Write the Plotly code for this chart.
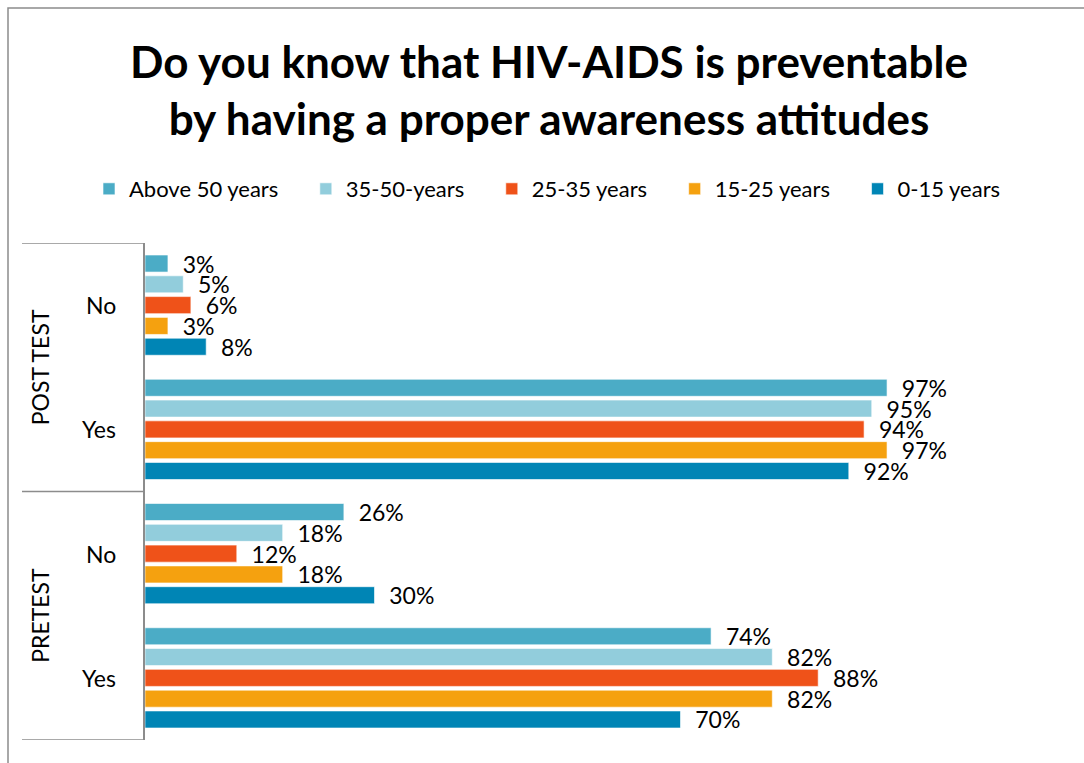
import plotly.graph_objects as go

# ---- data ----
groups = ["POST TEST", "POST TEST", "PRETEST", "PRETEST"]
answers = ["No", "Yes", "No", "Yes"]
categories = ["POST TEST|No", "POST TEST|Yes", "PRETEST|No", "PRETEST|Yes"]

series_names = ["Above 50 years", "35-50-years", "25-35 years", "15-25 years", "0-15 years"]
above_50 = [3, 97, 26, 74]
age_35_50 = [5, 95, 18, 82]
age_25_35 = [6, 94, 12, 88]
age_15_25 = [3, 97, 18, 82]
age_0_15 = [8, 92, 30, 70]
series_values = [above_50, age_35_50, age_25_35, age_15_25, age_0_15]
colors = ["#4BACC6", "#92CDDC", "#EF5219", "#F5A10F", "#0085B5"]

title_text = "Do you know that HIV-AIDS is preventable<br>by having a proper awareness attitudes"

FONT = "Lato, Carlito, Calibri, sans-serif"

W, H = 1084, 763
PL = 145            # plot area left in page px
X100 = 910          # page px of the 100% value
PR = 1074           # plot area right in page px
PT, PB = 243, 740   # plot area y in page px
XMAX = 100 * (PR - PL) / (X100 - PL)

def px_x(p):
    return (p - PL) / (PR - PL)

def px_y(p):
    return (PB - p) / (PB - PT)

fig = go.Figure()
# y axis is reversed, so the first trace sits at the top of each group
for i, (name, vals, col) in enumerate(zip(series_names, series_values, colors)):
    pad = "\u00a0" * 4 if i < len(series_names) - 1 else ""
    fig.add_trace(go.Bar(
        name=name + pad,
        y=categories,
        x=vals,
        orientation="h",
        marker=dict(color=col, line=dict(color="rgba(255,255,255,0.6)", width=1)),
        text=[f"{v}%" for v in vals],
        texttemplate="\u00a0\u00a0%{text}",
        textposition="outside",
        textfont=dict(family=FONT, size=23, color="#000000"),
        constraintext="none",
        cliponaxis=False,
    ))

annotations = []
# answer labels
for cat, ans in zip(categories, answers):
    annotations.append(dict(
        xref="paper", yref="y", x=px_x(118), y=cat, text=ans,
        xanchor="right", yanchor="middle", showarrow=False,
        font=dict(family=FONT, size=23, color="#000000"),
    ))
# group labels
seen = []
for i, g in enumerate(groups):
    if g in seen:
        continue
    seen.append(g)
    idx = [j for j, gg in enumerate(groups) if gg == g]
    center = (idx[0] + idx[-1]) / 2
    annotations.append(dict(
        xref="paper", yref="y", x=px_x(40), y=center, text=g,
        textangle=-90, xanchor="center", yanchor="middle", showarrow=False,
        font=dict(family=FONT, size=23, color="#000000"),
    ))

shapes = []
line_col = "#8C8C8C"
for yb in [-0.5, 1.5, 3.5]:
    shapes.append(dict(type="line", xref="paper", yref="y",
                       x0=px_x(22), x1=0, y0=yb, y1=yb,
                       line=dict(color=line_col, width=1.5)))
# outer chart frame
shapes.append(dict(type="rect", xref="paper", yref="paper",
                   x0=px_x(8), x1=px_x(W + 20), y0=px_y(H + 20), y1=px_y(8),
                   line=dict(color=line_col, width=1.5), fillcolor="rgba(0,0,0,0)"))

fig.update_layout(
    width=W, height=H,
    margin=dict(l=PL, r=W - PR, t=PT, b=H - PB, pad=0),
    paper_bgcolor="white", plot_bgcolor="white",
    barmode="group", bargap=0.163, bargroupgap=0.18,
    title=dict(text=title_text, x=549 / W, xref="container", xanchor="center",
               y=1 - 78 / H, yanchor="middle",
               font=dict(family=FONT, size=44, color="#000000", weight="bold")),
    legend=dict(orientation="h", traceorder="normal", xref="container", yref="container",
                x=89 / W, xanchor="left", y=1 - 189 / H, yanchor="middle",
                font=dict(family=FONT, size=22, color="#000000"),
                bgcolor="rgba(0,0,0,0)"),
    xaxis=dict(range=[0, XMAX], visible=False, showgrid=False, zeroline=False),
    yaxis=dict(range=[3.5, -0.5], showticklabels=False, ticks="", showgrid=False,
               zeroline=False, showline=True, linecolor=line_col, linewidth=1.5,
               categoryorder="array", categoryarray=categories),
    annotations=annotations,
    shapes=shapes,
    showlegend=True,
)

fig.write_html("out.html")
